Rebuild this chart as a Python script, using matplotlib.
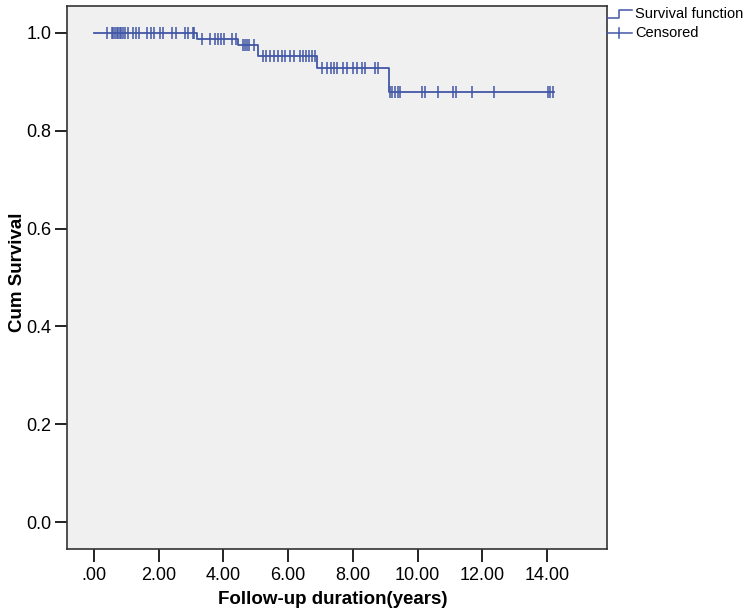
import matplotlib.pyplot as plt
from matplotlib.lines import Line2D
import numpy as np

plt.rcParams['font.family'] = ['Liberation Sans', 'DejaVu Sans']

# Kaplan-Meier steps: event times and survival after each event
event_times = [0.0, 3.18, 4.45, 5.07, 6.90, 9.12]
surv_levels = [1.0, 0.988, 0.975, 0.953, 0.928, 0.879]
end_time = 14.22

# censored follow-up times (years)
censored = [0.40, 0.55, 0.60, 0.65, 0.70, 0.75, 0.80, 0.85, 0.90, 0.95,
            1.05, 1.20, 1.30, 1.40, 1.65, 1.75, 1.85, 2.05, 2.15, 2.40,
            2.55, 2.80, 2.90, 3.05, 3.10,
            3.34, 3.58, 3.74, 3.83, 3.92, 4.02, 4.26, 4.40,
            4.60, 4.67, 4.73, 4.79, 4.95,
            5.22, 5.32, 5.44, 5.56, 5.69, 5.81, 5.90, 6.06, 6.18, 6.37,
            6.46, 6.55, 6.64, 6.74, 6.83,
            7.05, 7.20, 7.32, 7.42, 7.51, 7.69, 7.82, 8.00, 8.13, 8.28,
            8.37, 8.68, 8.78,
            9.15, 9.20, 9.30, 9.39, 9.46, 10.14, 10.23, 10.63, 11.09, 11.19,
            11.68, 12.36, 14.03, 14.10, 14.18]

xticks = [0, 2, 4, 6, 8, 10, 12, 14]
xticklabels = ['.00', '2.00', '4.00', '6.00', '8.00', '10.00', '12.00', '14.00']
yticks = [0.0, 0.2, 0.4, 0.6, 0.8, 1.0]

blue = '#4257a6'

fig = plt.figure(figsize=(7.5, 6.12), dpi=100)
ax = fig.add_axes([67/750, 1-549/612, (607-67)/750, (549-6)/612])
ax.set_facecolor('#f0f0f0')

step_x = event_times + [end_time]
step_y = surv_levels + [surv_levels[-1]]
ax.step(step_x, step_y, where='post', color=blue, lw=1.3)

idx = np.searchsorted(event_times, censored, side='right') - 1
cens_y = np.array(surv_levels)[idx]
ax.plot(censored, cens_y, ls='none', marker='|', ms=9, mew=1.1, color=blue)

ax.set_xlim(-0.83, 15.85)
ax.set_ylim(-0.055, 1.055)
ax.set_xticks(xticks)
ax.set_xticklabels(xticklabels)
ax.set_yticks(yticks)
ax.set_yticklabels(['%.1f' % v for v in yticks])
ax.tick_params(axis='both', length=9, width=1.4, labelsize=13, color='#222222')
ax.tick_params(axis='x', pad=4)
ax.tick_params(axis='y', pad=2)
for s in ax.spines.values():
    s.set_linewidth(1.2)
    s.set_color('#333333')

ax.set_xlabel('Follow-up duration(years)', fontsize=13.5, fontweight='bold', va='center')
ax.xaxis.set_label_coords((333-67)/540, (549-599)/543)
ax.set_ylabel('Cum Survival', fontsize=13.5, fontweight='bold', va='center')
ax.yaxis.set_label_coords((18-67)/540, (549-272)/543)

# legend drawn outside the frame
lx0, lx1 = 607/750, 632/750
y1 = 1 - 14/612
y2 = 1 - 33/612
fig.add_artist(Line2D([lx0, 619/750, 619/750, lx1], [y1 - 4/612, y1 - 4/612, y1 + 4/612, y1 + 4/612],
                      color=blue, lw=1.1, transform=fig.transFigure))
fig.add_artist(Line2D([lx0, lx1], [y2, y2], color=blue, lw=1.1, transform=fig.transFigure))
fig.add_artist(Line2D([619/750, 619/750], [y2 - 5/612, y2 + 5/612], color=blue, lw=1.1,
                      transform=fig.transFigure))
fig.text(635/750, y1, 'Survival function', fontsize=10.5, va='center', ha='left')
fig.text(635/750, y2, 'Censored', fontsize=10.5, va='center', ha='left')

fig.savefig('out.png', dpi=100, facecolor='white')
